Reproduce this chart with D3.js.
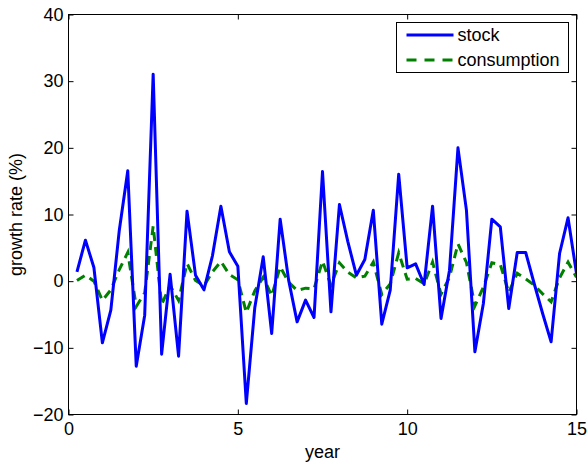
<!DOCTYPE html>
<html>
<head>
<meta charset="utf-8">
<script src="https://cdn.jsdelivr.net/npm/d3@7"></script>
<style>
  html, body { margin: 0; padding: 0; background: #fff; }
  svg { display: block; font-family: "Liberation Sans", Arial, Helvetica, sans-serif; }
</style>
</head>
<body>
<svg id="chart" width="588" height="462"></svg>
<script>
const WIDTH = 588;
const HEIGHT = 462;
const FONT_SIZE = 18;

// quarterly observations, t = 0.25 ... 15
const years = d3.range(1, 61).map((k) => k / 4);

const stockGrowth = [
  1.4, 6.15, 2.05, -9.25, -4.35, 7.65, 16.55, -12.75, -5.1, 31.05,
  -10.95, 1.05, -11.25, 10.5, 0.9, -1.3, 3.8, 11.25, 4.4, 2.25,
  -18.35, -4.0, 3.65, -7.85, 9.3, 0.15, -6.1, -2.85, -5.45, 16.45,
  -4.6, 11.5, 5.9, 0.9, 3.25, 10.65, -6.45, -1.35, 16.05, 2.0,
  2.6, -0.5, 11.25, -5.6, 1.65, 20.0, 10.65, -10.6, -3.35, 9.3,
  8.15, -4.1, 4.3, 4.3, -0.35, -4.85, -9.1, 4.15, 9.5, 1.15
];

const consumptionGrowth = [
  0.1, 0.9, 0.0, -2.9, -1.3, 1.75, 4.3, -3.8, -1.75, 8.25,
  -3.5, -0.65, -2.9, 2.65, 0.1, -0.7, 1.4, 2.95, 1.0, 0.2,
  -4.7, -1.45, 0.6, -2.2, 2.15, -0.15, -1.4, -1.05, -1.15, 3.0,
  -0.6, 2.75, 1.35, 0.5, 0.75, 2.85, -2.0, -0.4, 4.25, 0.3,
  0.4, -0.4, 2.85, -1.95, 0.6, 5.6, 2.8, -3.7, -0.9, 2.75,
  2.5, -1.7, 1.2, 0.35, -0.6, -1.9, -3.1, 0.5, 2.85, 0.6
];

const xTicks = [0, 5, 10, 15];
const yTicks = [-20, -10, 0, 10, 20, 30, 40];

const seriesNames = ["stock", "consumption"];

const margin = { top: 14.5, right: 11.5, bottom: 47.5, left: 68.5 };
const plotW = WIDTH - margin.left - margin.right;
const plotH = HEIGHT - margin.top - margin.bottom;

const x = d3.scaleLinear().domain([0, 15]).range([0, plotW]);
const y = d3.scaleLinear().domain([-20, 40]).range([plotH, 0]);

const svg = d3.select("#chart");
svg.append("rect").attr("width", WIDTH).attr("height", HEIGHT).attr("fill", "#fff");

const g = svg.append("g").attr("transform", `translate(${margin.left},${margin.top})`);

g.append("defs")
  .append("clipPath")
  .attr("id", "plot-clip")
  .append("rect")
  .attr("width", plotW)
  .attr("height", plotH);

const styleAxis = (sel, showLabels) => {
  sel.select(".domain").remove();
  sel.selectAll(".tick line").attr("stroke", "#000").attr("stroke-width", 1);
  sel.selectAll(".tick text").attr("fill", "#000").attr("font-size", FONT_SIZE);
  if (!showLabels) {
    sel.selectAll(".tick text").remove();
  }
};

g.append("g")
  .attr("transform", `translate(0,${plotH})`)
  .call(d3.axisBottom(x).tickValues(xTicks).tickSizeInner(-5).tickSizeOuter(0).tickPadding(8))
  .call((sel) => styleAxis(sel, true));

g.append("g")
  .call(d3.axisTop(x).tickValues(xTicks).tickSizeInner(-5).tickSizeOuter(0))
  .call((sel) => styleAxis(sel, false));

g.append("g")
  .call(d3.axisLeft(y).tickValues(yTicks).tickSizeInner(-5).tickSizeOuter(0).tickPadding(5))
  .call((sel) => styleAxis(sel, true));

g.append("g")
  .attr("transform", `translate(${plotW},0)`)
  .call(d3.axisRight(y).tickValues(yTicks).tickSizeInner(-5).tickSizeOuter(0))
  .call((sel) => styleAxis(sel, false));

const line = d3.line()
  .x((d) => x(d[0]))
  .y((d) => y(d[1]));

const lines = g.append("g").attr("clip-path", "url(#plot-clip)");

lines.append("path")
  .datum(d3.zip(years, consumptionGrowth))
  .attr("fill", "none")
  .attr("stroke", "#008000")
  .attr("stroke-width", 3)
  .attr("stroke-dasharray", "9,6")
  .attr("d", line);

lines.append("path")
  .datum(d3.zip(years, stockGrowth))
  .attr("fill", "none")
  .attr("stroke", "#0000ff")
  .attr("stroke-width", 3)
  .attr("stroke-linejoin", "round")
  .attr("d", line);

// box
g.append("rect")
  .attr("width", plotW)
  .attr("height", plotH)
  .attr("fill", "none")
  .attr("stroke", "#000")
  .attr("stroke-width", 1);

// axis titles
svg.append("text")
  .attr("x", margin.left + plotW / 2)
  .attr("y", 458)
  .attr("text-anchor", "middle")
  .attr("font-size", FONT_SIZE)
  .text("year");

svg.append("text")
  .attr("transform", `translate(22,${margin.top + plotH / 2}) rotate(-90)`)
  .attr("text-anchor", "middle")
  .attr("font-size", FONT_SIZE)
  .text("growth rate (%)");

// legend
const legend = svg.append("g").attr("transform", "translate(396.5,22.5)");
legend.append("rect")
  .attr("width", 172)
  .attr("height", 50)
  .attr("fill", "#fff")
  .attr("stroke", "#000")
  .attr("stroke-width", 1);

const legendStyles = [
  { color: "#0000ff", dash: null },
  { color: "#008000", dash: "10,8" }
];

seriesNames.forEach((name, i) => {
  const cy = 12.5 + i * 25;
  legend.append("line")
    .attr("x1", 10)
    .attr("x2", 57)
    .attr("y1", cy)
    .attr("y2", cy)
    .attr("stroke", legendStyles[i].color)
    .attr("stroke-width", 3)
    .attr("stroke-dasharray", legendStyles[i].dash);
  legend.append("text")
    .attr("x", 61)
    .attr("y", cy + 6)
    .attr("font-size", FONT_SIZE)
    .text(name);
});
</script>
</body>
</html>
